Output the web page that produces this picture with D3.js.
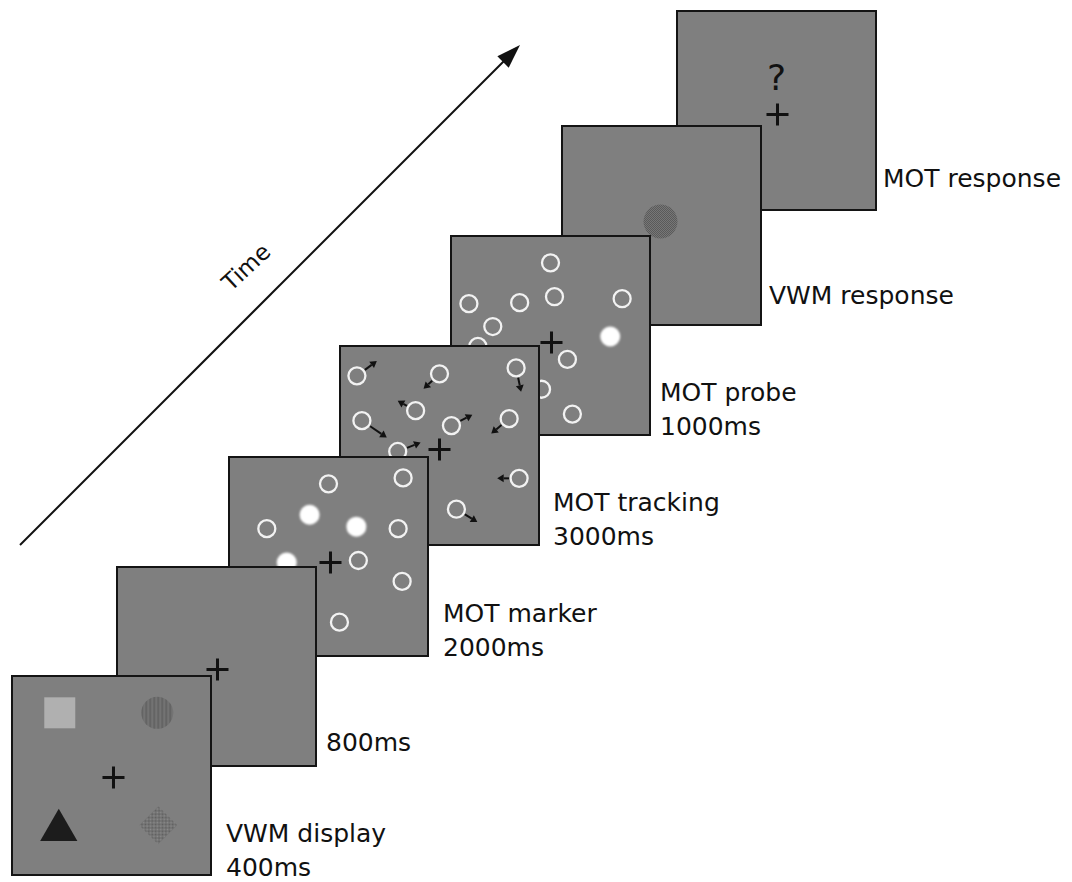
<!DOCTYPE html>
<html>
<head>
<meta charset="utf-8">
<script src="https://cdn.jsdelivr.net/npm/d3@7"></script>
<style>
  body { margin: 0; background: #fff; }
  text { font-family: "DejaVu Sans", Verdana, sans-serif; fill: #111; }
</style>
</head>
<body>
<div id="fig"></div>
<script>
// trial sequence, first to last
var stages = ["VWM display", "blank", "MOT marker", "MOT tracking", "MOT probe", "VWM response", "MOT response"];
var labelLine1 = ["VWM display", "800ms", "MOT marker", "MOT tracking", "MOT probe", "VWM response", "MOT response"];
var labelLine2 = ["400ms", "", "2000ms", "3000ms", "1000ms", "", ""];

// stimulus positions inside a panel, panel units 0..200
var vwmShapes = ["square", "circle", "triangle", "diamond"];
var vwmPos = [[48, 37], [146, 37], [47, 155], [147, 150]];
var markerOpen = [[100, 27], [175, 21], [38, 72], [170, 72], [130, 104], [174, 125], [111, 166]];
var markerFilled = [[81, 58], [128, 70], [58, 106]];
var trackDots = [[17, 30], [100, 28], [177, 22], [76, 65], [22, 75], [112, 80], [170, 73], [58, 106], [180, 133], [117, 164]];
var trackHeads = [[37, 15], [84, 43], [182, 46], [58, 55], [47, 92], [133, 69], [152, 88], [81, 97], [158, 133], [138, 177]];
var probeOpen = [[27, 111], [100, 27], [18, 68], [69, 67], [104, 61], [172, 63], [42, 91], [117, 124], [91, 154], [122, 179]];
var probeFilled = [[160, 101]];
var responseProbe = [[99, 96]];
var crossPos = [[102, 102], [101, 103], [102, 106], [100, 104], [101, 107], null, [101, 104]];

// layout (top-left corner of each panel)
var panelX = [12, 117, 229, 340, 451, 562, 677],
    panelY = [676, 567, 457, 346, 236, 126, 11],
    size = 199;
var labelDx = [15, 10, 15, 14, 10, 8, 7],
    labelBase = [842, 751, 622, 511, 401, 304, 187];

var svg = d3.select("#fig").append("svg")
  .attr("width", 1072)
  .attr("height", 882);

var defs = svg.append("defs");

// fine textures used for the coloured memory items
var stripes = defs.append("pattern").attr("id", "stripes")
  .attr("width", 4).attr("height", 4).attr("patternUnits", "userSpaceOnUse");
stripes.append("rect").attr("width", 4).attr("height", 4).attr("fill", "#737373");
stripes.append("rect").attr("width", 2).attr("height", 4).attr("fill", "#646464");

var checker = defs.append("pattern").attr("id", "checker")
  .attr("width", 2).attr("height", 2).attr("patternUnits", "userSpaceOnUse");
checker.append("rect").attr("width", 2).attr("height", 2).attr("fill", "#8c8c8c");
checker.append("rect").attr("width", 1).attr("height", 1).attr("fill", "#5c5c5c");
checker.append("rect").attr("x", 1).attr("y", 1).attr("width", 1).attr("height", 1).attr("fill", "#5c5c5c");

var checkerDark = defs.append("pattern").attr("id", "checkerDark")
  .attr("width", 2).attr("height", 2).attr("patternUnits", "userSpaceOnUse");
checkerDark.append("rect").attr("width", 2).attr("height", 2).attr("fill", "#777");
checkerDark.append("rect").attr("width", 1).attr("height", 1).attr("fill", "#5a5a5a");
checkerDark.append("rect").attr("x", 1).attr("y", 1).attr("width", 1).attr("height", 1).attr("fill", "#5a5a5a");

defs.append("filter").attr("id", "soft")
  .append("feGaussianBlur").attr("stdDeviation", 0.8);

// time arrow
var tx = d3.scaleLinear().domain([0, 1]).range([20, 520]),
    ty = d3.scaleLinear().domain([0, 1]).range([545, 45]);
svg.append("line")
  .attr("x1", tx(0)).attr("y1", ty(0))
  .attr("x2", tx(0.97)).attr("y2", ty(0.97))
  .attr("stroke", "#111").attr("stroke-width", 2);
var ang = Math.atan2(ty(1) - ty(0), tx(1) - tx(0));
var hl = 24, hw = 8;
var bx = tx(1) - hl * Math.cos(ang), by = ty(1) - hl * Math.sin(ang);
svg.append("path")
  .attr("d", "M" + tx(1) + "," + ty(1) +
    "L" + (bx + hw * Math.sin(ang)) + "," + (by - hw * Math.cos(ang)) +
    "L" + (bx - hw * Math.sin(ang)) + "," + (by + hw * Math.cos(ang)) + "Z")
  .attr("fill", "#111");
svg.append("text")
  .attr("transform", "translate(246,267) rotate(-43)")
  .attr("text-anchor", "middle")
  .attr("dy", "0.35em")
  .style("font-size", "23px")
  .text("Time");

function openDots(g, x, y, pts) {
  g.selectAll(null).data(pts).enter().append("circle")
    .attr("cx", function(d) { return x(d[0]); })
    .attr("cy", function(d) { return y(d[1]); })
    .attr("r", 8.5)
    .attr("fill", "none")
    .attr("stroke", "#f2f2f2")
    .attr("stroke-width", 2.3);
}
function filledDots(g, x, y, pts) {
  g.selectAll(null).data(pts).enter().append("circle")
    .attr("cx", function(d) { return x(d[0]); })
    .attr("cy", function(d) { return y(d[1]); })
    .attr("r", 10)
    .attr("fill", "#fff")
    .attr("filter", "url(#soft)");
}

// draw back to front: the last screen lies underneath
d3.range(stages.length).reverse().forEach(function(i) {
  var x = d3.scaleLinear().domain([0, 200]).range([panelX[i], panelX[i] + size]),
      y = d3.scaleLinear().domain([0, 200]).range([panelY[i], panelY[i] + size]);
  var g = svg.append("g");

  g.append("rect")
    .attr("x", x(0)).attr("y", y(0))
    .attr("width", size).attr("height", size)
    .attr("fill", "#7f7f7f")
    .attr("stroke", "#141414")
    .attr("stroke-width", 2);

  var clip = "clip" + i;
  defs.append("clipPath").attr("id", clip).append("rect")
    .attr("x", x(0)).attr("y", y(0)).attr("width", size).attr("height", size);
  var inner = g.append("g").attr("clip-path", "url(#" + clip + ")");

  if (stages[i] == "VWM display") {
    var sym = {
      square: d3.symbol(d3.symbolSquare, 961),
      circle: d3.symbol(d3.symbolCircle, 804),
      triangle: d3.symbol(d3.symbolTriangle, 600),
      diamond: d3.symbol(d3.symbolSquare, 722)
    };
    var fills = { square: "#b0b0b0", circle: "url(#stripes)", triangle: "#1c1c1c", diamond: "url(#checker)" };
    inner.selectAll(null).data(vwmShapes).enter().append("path")
      .attr("d", function(d) { return sym[d](); })
      .attr("transform", function(d, k) {
        return "translate(" + x(vwmPos[k][0]) + "," + y(vwmPos[k][1]) + ")" + (d == "diamond" ? " rotate(45)" : "");
      })
      .attr("fill", function(d) { return fills[d]; });
  }
  if (stages[i] == "MOT marker") {
    openDots(inner, x, y, markerOpen);
    filledDots(inner, x, y, markerFilled);
  }
  if (stages[i] == "MOT tracking") {
    openDots(inner, x, y, trackDots);
    trackDots.forEach(function(d, k) {
      var x0 = x(d[0]), y0 = y(d[1]), x1 = x(trackHeads[k][0]), y1 = y(trackHeads[k][1]);
      var a = Math.atan2(y1 - y0, x1 - x0);
      var sx = x0 + 10 * Math.cos(a), sy = y0 + 10 * Math.sin(a);
      var ex = x1 - 6.5 * Math.cos(a), ey = y1 - 6.5 * Math.sin(a);
      inner.append("line")
        .attr("x1", sx).attr("y1", sy).attr("x2", ex).attr("y2", ey)
        .attr("stroke", "#111").attr("stroke-width", 2);
      inner.append("path")
        .attr("d", "M" + x1 + "," + y1 +
          "L" + (ex + 4 * Math.sin(a)) + "," + (ey - 4 * Math.cos(a)) +
          "L" + (ex - 4 * Math.sin(a)) + "," + (ey + 4 * Math.cos(a)) + "Z")
        .attr("fill", "#111");
    });
  }
  if (stages[i] == "MOT probe") {
    openDots(inner, x, y, probeOpen);
    filledDots(inner, x, y, probeFilled);
  }
  if (stages[i] == "VWM response") {
    inner.selectAll(null).data(responseProbe).enter().append("circle")
      .attr("cx", function(d) { return x(d[0]); })
      .attr("cy", function(d) { return y(d[1]); })
      .attr("r", 17)
      .attr("fill", "url(#checkerDark)");
  }
  if (stages[i] == "MOT response") {
    inner.append("text")
      .attr("x", x(100)).attr("y", y(79))
      .attr("text-anchor", "middle")
      .style("font-size", "36px")
      .text("?");
  }

  var c = crossPos[i];
  if (c) {
    var cx = x(c[0]), cy = y(c[1]);
    inner.append("path")
      .attr("d", "M" + (cx - 11) + "," + cy + "H" + (cx + 11) + "M" + cx + "," + (cy - 11) + "V" + (cy + 11))
      .attr("stroke", "#111").attr("stroke-width", 3);
  }

  // caption beside the panel
  var lab = g.append("text")
    .attr("x", x(200) + labelDx[i])
    .attr("y", labelBase[i])
    .style("font-size", "25px");
  lab.append("tspan").text(labelLine1[i]);
  if (labelLine2[i]) {
    lab.append("tspan").attr("x", x(200) + labelDx[i]).attr("dy", 34).text(labelLine2[i]);
  }
});
</script>
</body>
</html>
